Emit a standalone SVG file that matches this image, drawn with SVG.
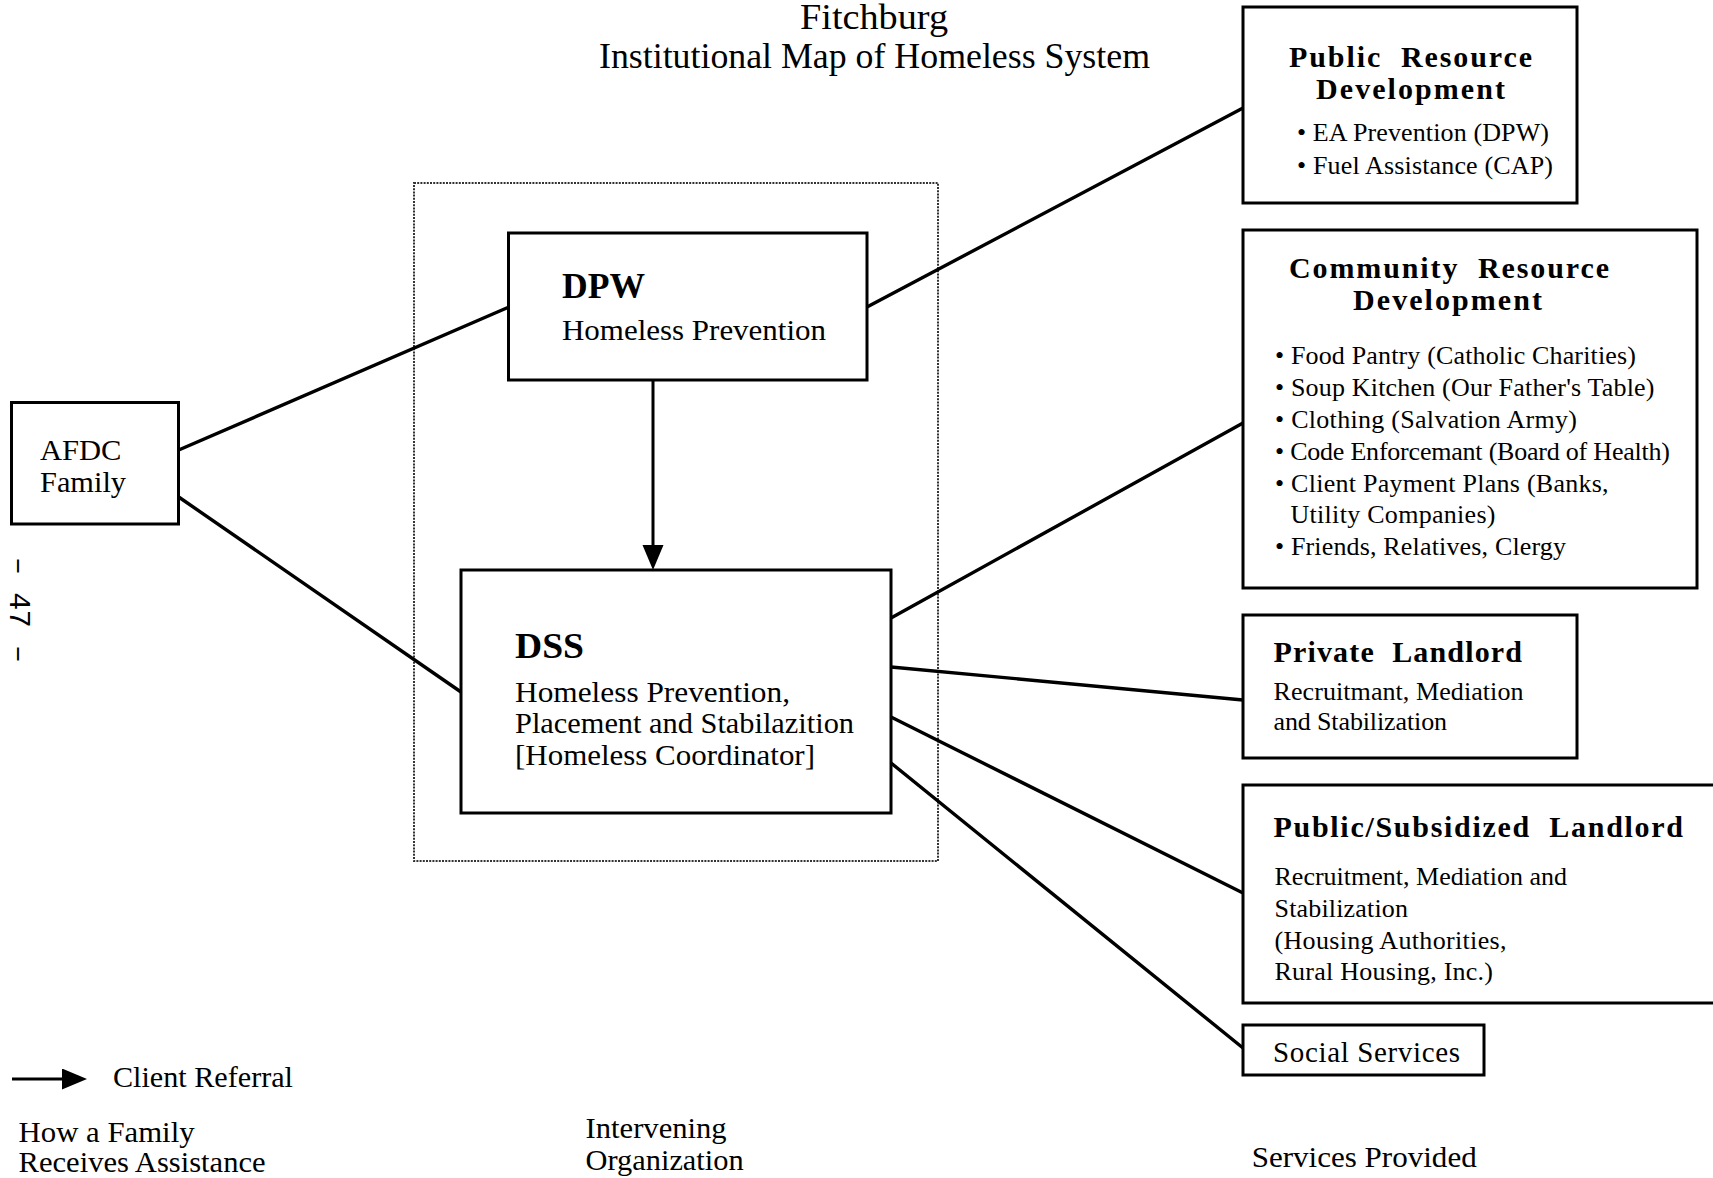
<svg xmlns="http://www.w3.org/2000/svg" width="1713" height="1178" viewBox="0 0 1713 1178">
<defs>
<style>
text{font-family:"Liberation Serif","Times New Roman",serif;fill:#000;}
.n{font-size:30px;}
.h{font-size:36px;font-weight:bold;}
.r{font-size:26px;}
.rh{font-size:30px;font-weight:bold;}
.f{font-size:30px;}
.box{fill:#fff;stroke:#000;stroke-width:3;}
.ln{stroke:#000;stroke-width:3.4;fill:none;stroke-linecap:round;}
</style>
<marker id="ah" markerUnits="userSpaceOnUse" markerWidth="26" markerHeight="22" refX="15" refY="10.5" orient="auto" viewBox="0 0 26 22">
<path d="M0,0 L25,10.5 L0,21 Z" fill="#000"/>
</marker>
</defs>
<rect width="1713" height="1178" fill="#fff"/>

<g id="title">
<text x="800" y="29" textLength="148" lengthAdjust="spacingAndGlyphs" style="font-size:36px">Fitchburg</text>
<text x="599" y="68" textLength="551" lengthAdjust="spacingAndGlyphs" style="font-size:36px">Institutional Map of Homeless System</text>
</g>

<g id="intervening-frame">
<rect x="414" y="183" width="524" height="678" fill="none" stroke="#333" stroke-width="2" stroke-dasharray="2 1.2"/>
</g>

<g id="connectors">
<line class="ln" x1="178.7" y1="450" x2="509" y2="307"/>
<line class="ln" x1="178.7" y1="497" x2="461" y2="692"/>
<line class="ln" x1="867" y1="307" x2="1243" y2="108"/>
<line class="ln" x1="891" y1="618" x2="1243" y2="423"/>
<line class="ln" x1="891" y1="667" x2="1243" y2="700"/>
<line class="ln" x1="891" y1="717" x2="1243" y2="893"/>
<line class="ln" x1="891" y1="763" x2="1243" y2="1048"/>
<line x1="653" y1="380" x2="653" y2="560" stroke="#000" stroke-width="3" marker-end="url(#ah)"/>
</g>

<g id="afdc">
<rect class="box" x="11.5" y="402.5" width="167" height="121.5"/>
<text class="n" x="40" y="460" textLength="81.5" lengthAdjust="spacingAndGlyphs">AFDC</text>
<text class="n" x="40" y="492" textLength="86" lengthAdjust="spacingAndGlyphs">Family</text>
</g>

<g id="dpw">
<rect class="box" x="508.5" y="233" width="358.5" height="147"/>
<text class="h" x="562" y="298" textLength="83" lengthAdjust="spacingAndGlyphs">DPW</text>
<text class="n" x="562" y="340" textLength="264" lengthAdjust="spacingAndGlyphs">Homeless Prevention</text>
</g>

<g id="dss">
<rect class="box" x="461" y="570" width="430" height="243"/>
<text class="h" x="515" y="658" textLength="69" lengthAdjust="spacingAndGlyphs">DSS</text>
<text class="n" x="515" y="702" textLength="275" lengthAdjust="spacingAndGlyphs" style="font-size:29px">Homeless Prevention,</text>
<text class="n" x="515" y="733" textLength="339" lengthAdjust="spacingAndGlyphs" style="font-size:29px">Placement and Stabilazition</text>
<text class="n" x="515" y="765" textLength="300" lengthAdjust="spacingAndGlyphs" style="font-size:29px">[Homeless Coordinator]</text>
</g>

<g id="public-resource">
<rect class="box" x="1243" y="7" width="334" height="196"/>
<text class="rh" x="1289" y="67" textLength="243" xml:space="preserve">Public  Resource</text>
<text class="rh" x="1316" y="99" textLength="189">Development</text>
<text class="r" x="1297" y="141" textLength="252">• EA Prevention (DPW)</text>
<text class="r" x="1297" y="174" textLength="256">• Fuel Assistance (CAP)</text>
</g>

<g id="community-resource">
<rect class="box" x="1243" y="230" width="454" height="358"/>
<text class="rh" x="1289" y="278" textLength="320" xml:space="preserve">Community  Resource</text>
<text class="rh" x="1353" y="310" textLength="189">Development</text>
<text class="r" x="1275" y="364" textLength="361">• Food Pantry (Catholic Charities)</text>
<text class="r" x="1275" y="396" textLength="379.5">• Soup Kitchen (Our Father's Table)</text>
<text class="r" x="1275" y="427.5" textLength="302">• Clothing (Salvation Army)</text>
<text class="r" x="1275" y="459.5" textLength="395">• Code Enforcemant (Board of Health)</text>
<text class="r" x="1275" y="491.5" textLength="333.6">• Client Payment Plans (Banks,</text>
<text class="r" x="1290.5" y="522.5" textLength="205">Utility Companies)</text>
<text class="r" x="1275" y="555" textLength="291">• Friends, Relatives, Clergy</text>
</g>

<g id="private-landlord">
<rect class="box" x="1243" y="615" width="334" height="143"/>
<text class="rh" x="1273.5" y="662" textLength="248.5" xml:space="preserve">Private  Landlord</text>
<text class="r" x="1273.5" y="700" textLength="250">Recruitmant, Mediation</text>
<text class="r" x="1273.5" y="730" textLength="173.5">and Stabilization</text>
</g>

<g id="public-subsidized-landlord">
<rect class="box" x="1243" y="785" width="480" height="218"/>
<text class="rh" x="1273.5" y="837" textLength="409.5" xml:space="preserve">Public/Subsidized  Landlord</text>
<text class="r" x="1274.5" y="885" textLength="292.5">Recruitment, Mediation and</text>
<text class="r" x="1274.5" y="917" textLength="133.5">Stabilization</text>
<text class="r" x="1274.5" y="949" textLength="232">(Housing Authorities,</text>
<text class="r" x="1274.5" y="980" textLength="218.5">Rural Housing, Inc.)</text>
</g>

<g id="social-services">
<rect class="box" x="1243" y="1025" width="241" height="50"/>
<text class="r" x="1273" y="1061.5" textLength="187" style="font-size:29px">Social Services</text>
</g>

<g id="page-number">
<text transform="translate(10,610) rotate(90)" text-anchor="middle" textLength="106" style="font-family:'Liberation Mono','Courier New',monospace;font-size:30px">– 47 –</text>
</g>

<g id="legend">
<line x1="12" y1="1079" x2="77" y2="1079" stroke="#000" stroke-width="3" marker-end="url(#ah)"/>
<text class="f" x="113" y="1086.7" textLength="180" lengthAdjust="spacingAndGlyphs">Client Referral</text>
</g>

<g id="column-labels">
<text class="f" x="18.6" y="1142" textLength="176" lengthAdjust="spacingAndGlyphs">How a Family</text>
<text class="f" x="18.6" y="1172" textLength="247" lengthAdjust="spacingAndGlyphs">Receives Assistance</text>
<text class="f" x="585.6" y="1138" textLength="141" lengthAdjust="spacingAndGlyphs">Intervening</text>
<text class="f" x="585.6" y="1170" textLength="158" lengthAdjust="spacingAndGlyphs">Organization</text>
<text class="f" x="1251.7" y="1167" textLength="225" lengthAdjust="spacingAndGlyphs">Services Provided</text>
</g>
</svg>
